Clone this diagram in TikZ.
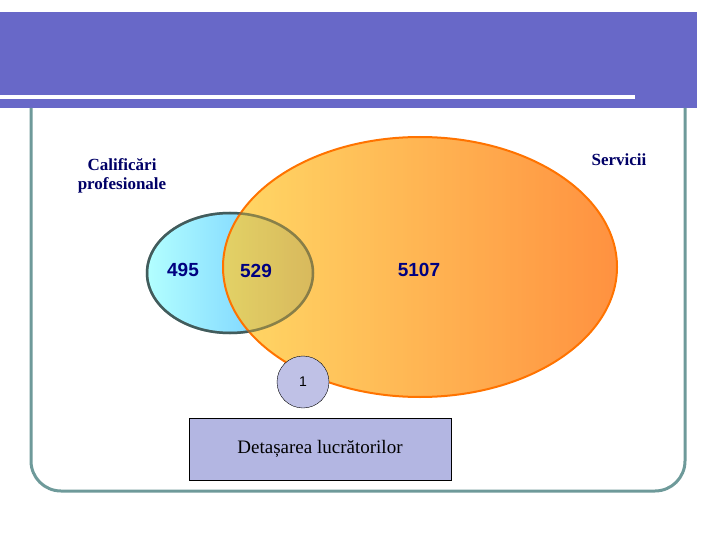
\documentclass[tikz,border=0pt]{standalone}
\usepackage{fontspec}
\usetikzlibrary{shapes.geometric}
\setmainfont{Liberation Serif}
\newfontfamily\sansf{Liberation Sans}
\begin{document}
\begin{tikzpicture}[x=1pt,y=-1pt,
  lbl/.style={font=\bfseries\fontsize{17}{19}\selectfont,text=blue!40!black,align=center},
  num/.style={font=\sansf\bfseries\fontsize{19}{21}\selectfont,text=blue!50!black}]
\useasboundingbox (0,0) rectangle (720,540);
\definecolor{banner}{RGB}{104,104,200}
\definecolor{frame}{RGB}{110,154,154}
\fill[banner] (0,12) rectangle (697,108);
\fill[white] (0,95) rectangle (635,99);
\draw[frame,line width=3pt,rounded corners=30pt] (31,108) -- (31,491) -- (685,491) -- (685,108);
\node[ellipse,minimum width=166pt,minimum height=120pt,draw=frame!60!black,line width=2.5pt,left color=cyan!30,right color=cyan!60!blue!60,inner sep=0] (small) at (230,273) {};
\node[ellipse,minimum width=394pt,minimum height=260pt,draw=orange!90!red,line width=2pt,left color=orange!50!yellow!80,right color=orange!85!red,fill opacity=0.75,inner sep=0] (big) at (420,267) {};
\draw[frame!60!black,line width=2.5pt,opacity=0.5] (small.center) ellipse (83pt and 60pt);
\node[num] (n1) at (183,270) {495};
\node[num] (n2) at (256,271) {529};
\node[num] (n3) at (419,270) {5107};
\node[circle,draw=black,fill=cyan!25!blue!25,minimum size=52pt,inner sep=0,font=\sansf\fontsize{14}{16}\selectfont] (one) at (303,382) {1};
\node[draw=black,fill=cyan!25!blue!30,minimum width=262pt,minimum height=62pt,font=\fontsize{19}{21}\selectfont] (det) at (320,449) {Detașarea lucrătorilor};
\node[lbl] (cal) at (122,176) {Calificări\\profesionale};
\node[lbl] (ser) at (619,160) {Servicii};
\end{tikzpicture}
\end{document}
